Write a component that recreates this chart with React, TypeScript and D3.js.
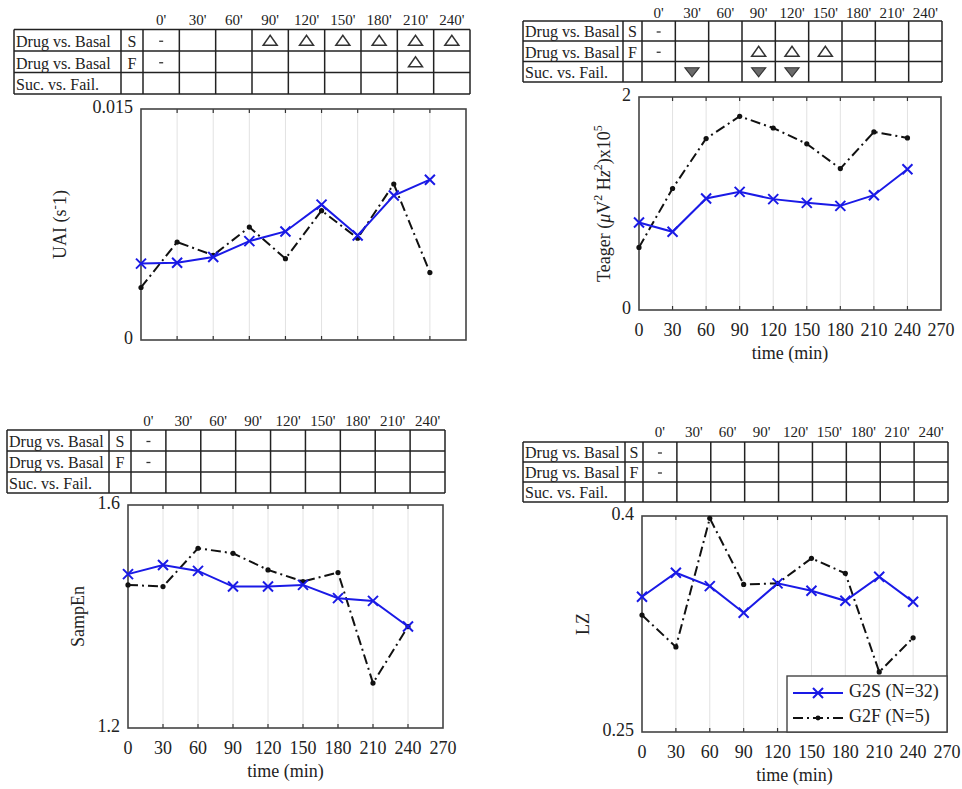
import React from "react"
import * as d3 from "d3"

// time points (min) and tick labels
const times = [0, 30, 60, 90, 120, 150, 180, 210, 240]
const xTicks = [0, 30, 60, 90, 120, 150, 180, 210, 240, 270]
const colLabels = ["0'", "30'", "60'", "90'", "120'", "150'", "180'", "210'", "240'"]
const rowLabels = ["Drug vs. Basal", "Drug vs. Basal", "Suc. vs. Fail."]
const rowGroups = ["S", "F", ""]
const legendLabels = ["G2S (N=32)", "G2F (N=5)"]

// series values
const uaiG2S = [0.00496, 0.00502, 0.00539, 0.00642, 0.00705, 0.00879, 0.00679, 0.00938, 0.01041]
const uaiG2F = [0.00341, 0.00636, 0.0055, 0.00733, 0.00528, 0.0084, 0.00661, 0.01013, 0.00438]
const teagerG2S = [0.822, 0.734, 1.047, 1.109, 1.041, 1.006, 0.978, 1.078, 1.322]
const teagerG2F = [0.588, 1.141, 1.61, 1.819, 1.709, 1.56, 1.328, 1.672, 1.616]
const sampEnG2S = [1.476, 1.4925, 1.4818, 1.4537, 1.4537, 1.4567, 1.4329, 1.428, 1.382]
const sampEnG2F = [1.4567, 1.4537, 1.5224, 1.5134, 1.4836, 1.4627, 1.4788, 1.2806, 1.382]
const lzG2S = [0.3439, 0.3606, 0.3513, 0.3328, 0.3532, 0.3481, 0.3411, 0.3578, 0.3404]
const lzG2F = [0.3312, 0.3091, 0.3984, 0.3525, 0.3532, 0.3706, 0.3602, 0.2917, 0.3154]

// significance marks per table row: "-" dash, "u" open up-triangle, "d" filled down-triangle
const uaiMarks = [
  ["-", "", "", "u", "u", "u", "u", "u", "u"],
  ["-", "", "", "", "", "", "", "u", ""],
  ["", "", "", "", "", "", "", "", ""],
]
const teagerMarks = [
  ["-", "", "", "", "", "", "", "", ""],
  ["-", "", "", "u", "u", "u", "", "", ""],
  ["", "d", "", "d", "d", "", "", "", ""],
]
const sampEnMarks = [
  ["-", "", "", "", "", "", "", "", ""],
  ["-", "", "", "", "", "", "", "", ""],
  ["", "", "", "", "", "", "", "", ""],
]
const lzMarks = [
  ["-", "", "", "", "", "", "", "", ""],
  ["-", "", "", "", "", "", "", "", ""],
  ["", "", "", "", "", "", "", "", ""],
]

const FONT = "'Liberation Serif', 'Times New Roman', serif"
const BLUE = "#1a1ae6"

function Table({ left, labelRight, groupRight, right, rows, headerY, marks }) {
  const x = d3.scaleBand().domain(colLabels).range([groupRight, right])
  const cols = [left, labelRight, groupRight, ...colLabels.map(c => x(c) + x.bandwidth())]
  return (
    <g fontFamily={FONT} fill="#222">
      {colLabels.map(c => (
        <text key={c} x={x(c) + x.bandwidth() / 2} y={headerY} fontSize={15} textAnchor="middle" dominantBaseline="middle">{c}</text>
      ))}
      {rows.map((ry, i) => (
        <line key={"h" + i} x1={left} x2={right} y1={ry} y2={ry} stroke="#222" strokeWidth={1.5} />
      ))}
      {cols.map((cx, i) => (
        <line key={"v" + i} x1={cx} x2={cx} y1={rows[0]} y2={rows[rows.length - 1]} stroke="#222" strokeWidth={1.5} />
      ))}
      {rowLabels.map((lab, i) => {
        const cy = (rows[i] + rows[i + 1]) / 2
        return (
          <g key={"r" + i}>
            <text x={left + 2} y={rows[i + 1] - 4} fontSize={16}>{lab}</text>
            <text x={(labelRight + groupRight) / 2} y={rows[i + 1] - 4} fontSize={16} textAnchor="middle">{rowGroups[i]}</text>
            {marks[i].map((m, j) => {
              const mx = x(colLabels[j]) + x.bandwidth() / 2
              if (m === "-") return <line key={j} x1={mx - 2} x2={mx + 2} y1={cy + 1} y2={cy + 1} stroke="#333" strokeWidth={1.3} />
              if (m === "u") return <path key={j} d={`M${mx - 7},${cy + 5}L${mx + 7},${cy + 5}L${mx},${cy - 5}Z`} fill="#fff" stroke="#333" strokeWidth={1.5} />
              if (m === "d") return <path key={j} d={`M${mx - 7},${cy - 4}L${mx + 7},${cy - 4}L${mx},${cy + 5}Z`} fill="#6a6a6a" stroke="#333" strokeWidth={1.2} />
              return null
            })}
          </g>
        )
      })}
    </g>
  )
}

function Panel({ left, right, top, bottom, yDomain, yTickLabels, yLabel, yLabelX, s, f, showX, legend }) {
  const x = d3.scaleLinear().domain([0, 270]).range([left, right])
  const y = d3.scaleLinear().domain(yDomain).range([bottom, top])
  const line = d3.line<number>().x((d, i) => x(times[i])).y(d => y(d))
  const midY = (top + bottom) / 2
  return (
    <g fontFamily={FONT} fill="#222">
      {xTicks.slice(1, -1).map(t => (
        <g key={t}>
          <line x1={x(t)} x2={x(t)} y1={top} y2={bottom} stroke="#e2e2e2" strokeWidth={1} />
          <line x1={x(t)} x2={x(t)} y1={top} y2={top + 4} stroke="#333" strokeWidth={1.2} />
          <line x1={x(t)} x2={x(t)} y1={bottom} y2={bottom - 4} stroke="#333" strokeWidth={1.2} />
        </g>
      ))}
      <rect x={left} y={top} width={right - left} height={bottom - top} fill="none" stroke="#444" strokeWidth={1.6} />
      {yDomain.map((v, i) => (
        <text key={i} x={left - 8} y={y(v)} fontSize={18} textAnchor="end" dominantBaseline="middle">{yTickLabels[i]}</text>
      ))}
      {showX && xTicks.map(t => (
        <text key={t} x={x(t)} y={bottom + 22} fontSize={18} textAnchor="middle" dominantBaseline="middle">{t}</text>
      ))}
      {showX && <text x={(left + right) / 2} y={bottom + 45} fontSize={18} textAnchor="middle" dominantBaseline="middle">time (min)</text>}
      <text transform={`translate(${yLabelX},${midY}) rotate(-90)`} fontSize={18} textAnchor="middle" dominantBaseline="middle">{yLabel}</text>

      <path d={line(f)} fill="none" stroke="#111" strokeWidth={2} strokeDasharray="10,4,2,4" />
      {f.map((d, i) => <circle key={i} cx={x(times[i])} cy={y(d)} r={2.6} fill="#111" />)}
      <path d={line(s)} fill="none" stroke={BLUE} strokeWidth={2} />
      {s.map((d, i) => (
        <path key={i} d={`M${x(times[i]) - 5},${y(d) - 5}L${x(times[i]) + 5},${y(d) + 5}M${x(times[i]) - 5},${y(d) + 5}L${x(times[i]) + 5},${y(d) - 5}`} stroke={BLUE} strokeWidth={2} />
      ))}

      {legend && (
        <g>
          <rect x={right - 160} y={bottom - 56} width={160} height={56} fill="#fff" stroke="#444" strokeWidth={1.4} />
          <line x1={right - 154} x2={right - 104} y1={bottom - 39} y2={bottom - 39} stroke={BLUE} strokeWidth={2} />
          <path d={`M${right - 134},${bottom - 44}L${right - 124},${bottom - 34}M${right - 134},${bottom - 34}L${right - 124},${bottom - 44}`} stroke={BLUE} strokeWidth={2} />
          <text x={right - 98} y={bottom - 39} fontSize={18} dominantBaseline="middle">{legendLabels[0]}</text>
          <line x1={right - 154} x2={right - 104} y1={bottom - 14} y2={bottom - 14} stroke="#111" strokeWidth={2} strokeDasharray="10,4,2,4" />
          <circle cx={right - 129} cy={bottom - 14} r={2.4} fill="#111" />
          <text x={right - 98} y={bottom - 14} fontSize={18} dominantBaseline="middle">{legendLabels[1]}</text>
        </g>
      )}
    </g>
  )
}

export default function App() {
  const uaiLabel = (
    <>
      UAI (s<tspan dy={-6} fontSize={13}>-</tspan><tspan dy={6}>1)</tspan>
    </>
  )
  const teagerLabel = (
    <>
      Teager (<tspan fontStyle="italic">μ</tspan>V<tspan dy={-7} fontSize={12}>2</tspan>
      <tspan dy={7}> H</tspan><tspan fontStyle="italic">z</tspan><tspan dy={-7} fontSize={12}>2</tspan>
      <tspan dy={7}>)x10</tspan><tspan dy={-7} fontSize={12}>5</tspan>
    </>
  )
  return (
    <svg width={962} height={789} style={{ position: "absolute", left: 0, top: 0, background: "#fff" }}>
      <Table left={14} labelRight={121} groupRight={143} right={470} rows={[29.5, 51, 72.5, 94]} headerY={22} marks={uaiMarks} />
      <Table left={523} labelRight={623} groupRight={642} right={942} rows={[21, 41, 61.5, 82]} headerY={15} marks={teagerMarks} />
      <Table left={7} labelRight={109} groupRight={131} right={445} rows={[430, 451, 472, 493]} headerY={423} marks={sampEnMarks} />
      <Table left={523} labelRight={625} groupRight={643} right={948} rows={[442, 462, 482, 502]} headerY={434} marks={lzMarks} />

      <Panel left={141} right={466} top={109} bottom={340} yDomain={[0, 0.015]} yTickLabels={["0", "0.015"]}
        yLabel={uaiLabel} yLabelX={62} s={uaiG2S} f={uaiG2F} showX={false} legend={false} />
      <Panel left={639} right={941} top={97} bottom={310} yDomain={[0, 2]} yTickLabels={["0", "2"]}
        yLabel={teagerLabel} yLabelX={606} s={teagerG2S} f={teagerG2F} showX={true} legend={false} />
      <Panel left={128} right={443} top={505} bottom={728} yDomain={[1.2, 1.6]} yTickLabels={["1.2", "1.6"]}
        yLabel="SampEn" yLabelX={80} s={sampEnG2S} f={sampEnG2F} showX={true} legend={false} />
      <Panel left={642} right={947} top={516} bottom={732} yDomain={[0.25, 0.4]} yTickLabels={["0.25", "0.4"]}
        yLabel="LZ" yLabelX={585} s={lzG2S} f={lzG2F} showX={true} legend={true} />
    </svg>
  )
}
